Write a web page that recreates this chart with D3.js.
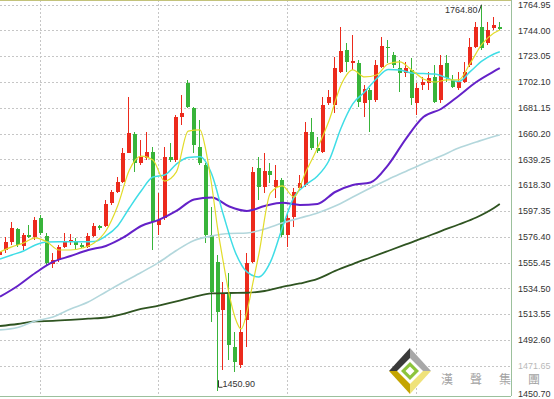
<!DOCTYPE html>
<html>
<head>
<meta charset="utf-8">
<script src="https://cdn.jsdelivr.net/npm/d3@7"></script>
<style>
  body { margin: 0; background: #fff; }
  .axis text { font-family: 'Liberation Sans', Arial, sans-serif; font-size: 9px; fill: #333; }
  .note { font-family: 'Liberation Sans', Arial, sans-serif; font-size: 9px; fill: #333; }
</style>
</head>
<body>
<div id="chart"></div>
<script>
// Daily candles, left to right (prices)
const opens = [1561.6, 1565.6, 1572.3, 1582.7, 1568.9, 1577.8, 1576.2, 1591.6, 1577.0, 1554.2,
    1557.5, 1568.0, 1572.1, 1572.3, 1569.7, 1568.3, 1577.2, 1585.3, 1585.3, 1603.5,
    1613.0, 1621.1, 1644.1, 1659.8, 1636.0, 1640.1, 1644.9, 1585.9, 1591.4, 1641.4,
    1638.7, 1673.6, 1701.0, 1680.7, 1649.5, 1634.6, 1577.8, 1556.1, 1516.9, 1530.5,
    1487.1, 1472.2, 1508.8, 1556.1, 1632.0, 1617.0, 1630.0, 1617.0, 1622.5, 1577.8,
    1592.6, 1615.7, 1618.4, 1661.7, 1648.2, 1645.4, 1685.2, 1683.4, 1710.4, 1728.0,
    1717.7, 1717.7, 1685.2, 1695.5, 1687.4, 1714.5, 1730.7, 1724.0, 1713.6, 1709.1,
    1711.8, 1685.0, 1699.6, 1701.2, 1706.3, 1687.4, 1717.5, 1703.7, 1696.9, 1702.3,
    1715.8, 1730.7, 1746.9, 1733.5, 1745.6, 1746.9];
const highs = [1566.4, 1576.4, 1588.6, 1583.5, 1579.2, 1585.9, 1592.6, 1594.0, 1579.2, 1563.2,
    1569.7, 1579.2, 1578.4, 1575.1, 1571.3, 1579.2, 1587.3, 1585.9, 1606.2, 1614.3,
    1625.1, 1648.2, 1690.1, 1661.7, 1654.9, 1661.7, 1649.5, 1611.7, 1649.5, 1652.7,
    1675.2, 1691.5, 1703.7, 1682.0, 1671.2, 1636.0, 1600.8, 1561.6, 1539.9, 1546.7,
    1499.3, 1516.9, 1562.9, 1633.3, 1641.4, 1644.1, 1636.0, 1634.6, 1623.8, 1595.4,
    1615.7, 1626.5, 1669.8, 1672.6, 1657.6, 1690.1, 1695.5, 1722.6, 1746.9, 1733.5,
    1740.2, 1719.9, 1699.6, 1696.9, 1719.9, 1738.8, 1736.1, 1726.6, 1719.9, 1718.5,
    1721.5, 1701.2, 1706.3, 1710.4, 1715.8, 1724.0, 1724.0, 1707.7, 1710.4, 1718.5,
    1737.5, 1751.0, 1764.8, 1751.0, 1755.1, 1751.0];
const lows = [1559.9, 1563.2, 1569.7, 1568.3, 1565.6, 1575.4, 1573.7, 1577.8, 1553.4, 1551.0,
    1556.1, 1567.0, 1569.7, 1565.6, 1567.2, 1567.0, 1576.4, 1581.9, 1584.5, 1602.2,
    1611.7, 1619.8, 1644.1, 1629.2, 1634.6, 1638.7, 1565.6, 1577.8, 1590.0, 1637.3,
    1637.3, 1667.1, 1680.9, 1644.1, 1634.6, 1571.1, 1507.4, 1450.9, 1468.2, 1476.3,
    1466.8, 1469.6, 1487.1, 1555.1, 1606.2, 1611.7, 1619.8, 1607.6, 1576.4, 1568.3,
    1584.5, 1614.3, 1617.0, 1646.8, 1644.6, 1644.1, 1683.4, 1676.6, 1709.1, 1710.4,
    1711.8, 1682.0, 1673.9, 1661.7, 1686.0, 1713.2, 1717.2, 1713.2, 1694.2, 1706.3,
    1683.4, 1675.2, 1695.5, 1695.5, 1685.0, 1685.0, 1702.3, 1696.9, 1695.5, 1701.0,
    1714.5, 1729.4, 1728.0, 1732.1, 1744.3, 1744.3];
const closes = [1564.2, 1572.3, 1583.5, 1569.7, 1577.8, 1576.4, 1590.0, 1579.4, 1555.1, 1557.5,
    1568.0, 1572.1, 1573.7, 1569.7, 1567.8, 1577.2, 1585.3, 1583.2, 1603.0, 1613.0,
    1621.1, 1644.1, 1660.9, 1636.0, 1641.4, 1645.4, 1588.6, 1590.0, 1641.4, 1638.7,
    1673.4, 1676.9, 1682.0, 1650.9, 1636.0, 1577.8, 1531.8, 1515.5, 1530.5, 1488.5,
    1474.9, 1499.3, 1554.8, 1629.2, 1617.0, 1630.0, 1626.5, 1622.5, 1577.8, 1591.4,
    1613.0, 1619.8, 1661.7, 1648.2, 1646.2, 1683.4, 1689.6, 1713.2, 1727.4, 1718.5,
    1719.1, 1686.0, 1696.1, 1687.4, 1715.8, 1731.3, 1729.4, 1715.8, 1709.1, 1713.2,
    1688.8, 1697.2, 1702.3, 1705.3, 1686.0, 1715.8, 1705.3, 1698.0, 1702.3, 1710.4,
    1730.7, 1746.9, 1729.4, 1744.3, 1748.3, 1744.8];

// Moving average lines, [candle index, price]
const ma5 = [[0,1564.0],[2,1568.1],[4,1571.3],[6,1575.4],[8,1572.1],[10,1565.6],[12,1565.6],[14,1567.2],
    [16,1571.3],[18,1581.0],[20,1601.3],[22,1630.6],[24,1641.9],[26,1638.7],[28,1621.6],[30,1629.0],
    [32,1662.2],[34,1663.1],[35,1646.8],[36,1618.4],[37,1583.5],[38,1555.1],[39,1529.1],[40,1510.4],
    [41,1501.5],[42,1515.3],[43,1538.8],[44,1561.6],[46,1611.9],[48,1617.6],[50,1608.6],[52,1629.0],
    [54,1648.4],[56,1671.2],[58,1699.6],[60,1711.8],[62,1706.1],[64,1707.7],[66,1716.6],[68,1718.3],
    [70,1711.8],[72,1704.5],[74,1702.0],[76,1703.7],[78,1703.7],[80,1717.5],[82,1732.9],[84,1741.8],[85,1744.3]];
const ma10 = [[0,1558.3],[2,1561.6],[4,1564.8],[6,1569.7],[8,1572.1],[10,1572.3],[12,1572.3],[14,1572.3],
    [16,1572.5],[18,1577.0],[20,1585.1],[22,1599.7],[24,1613.5],[26,1624.9],[28,1626.5],[30,1635.4],
    [32,1640.7],[34,1641.4],[36,1627.3],[38,1594.0],[40,1564.0],[42,1547.8],[44,1543.7],[46,1555.9],
    [48,1583.5],[50,1608.6],[52,1618.4],[54,1625.7],[56,1638.7],[58,1664.7],[60,1684.2],[62,1693.9],
    [64,1704.5],[66,1712.2],[68,1711.8],[70,1709.3],[72,1708.9],[74,1708.5],[76,1705.3],[78,1702.4],
    [80,1710.6],[82,1719.1],[84,1724.8],[85,1726.6]];
const ma20 = [[0,1527.7],[3,1536.4],[6,1546.9],[9,1555.9],[12,1560.7],[15,1565.6],[18,1568.9],[21,1575.8],
    [24,1585.1],[27,1590.0],[30,1597.3],[33,1606.6],[36,1608.2],[39,1600.9],[42,1597.3],[45,1601.3],
    [48,1604.0],[51,1602.2],[54,1603.0],[57,1612.7],[60,1618.4],[63,1620.4],[66,1634.6],[69,1655.7],
    [72,1673.6],[75,1680.1],[78,1690.7],[81,1702.0],[84,1710.6],[85,1713.2]];
const ma60 = [[0,1500.7],[3,1502.7],[6,1508.0],[9,1511.2],[12,1517.7],[15,1523.4],[18,1531.5],[21,1539.6],
    [24,1547.3],[27,1555.5],[30,1565.2],[33,1573.3],[36,1577.0],[39,1579.0],[42,1579.4],[45,1582.7],
    [48,1587.5],[51,1591.6],[54,1595.7],[57,1601.3],[60,1608.6],[63,1616.0],[66,1622.9],[69,1629.4],
    [72,1635.9],[75,1641.9],[78,1648.4],[81,1653.3],[84,1657.8],[85,1659.0]];
const ma120 = [[0,1503.9],[3,1505.5],[6,1507.6],[9,1508.0],[12,1508.8],[15,1509.8],[18,1510.8],[21,1513.8],
    [24,1517.7],[27,1520.5],[30,1523.8],[33,1527.5],[36,1530.3],[39,1530.7],[42,1530.9],[45,1532.3],
    [48,1535.6],[51,1538.4],[54,1542.1],[57,1548.6],[60,1554.2],[63,1559.5],[66,1564.8],[69,1570.1],
    [72,1575.4],[75,1581.0],[78,1586.3],[81,1592.0],[84,1599.7],[85,1603.0]];

// Price scale labels and period separators (candle index)
const priceTicks = [1764.95, 1744.00, 1723.05, 1702.10, 1681.15, 1660.20, 1639.25, 1618.30,
    1597.35, 1576.40, 1555.45, 1534.50, 1513.55, 1492.60, 1471.65, 1450.70];
const periodStarts = [7, 27, 49, 71];
const highIdx = 82, highLabel = '1764.80';
const lowIdx = 37, lowLabel = '1450.90';
const logoChars = ['漢', '聲', '集', '團'];

const svgWidth = 554, svgHeight = 399;
const plotRight = 511, plotBottom = 396;

const svg = d3.select('#chart')
    .append('svg')
    .attr('width', svgWidth)
    .attr('height', svgHeight);

const xScale = d3.scaleLinear().domain([0, 85]).range([0, 499.8]);
const yScale = d3.scaleLinear().domain([1450.70, 1764.95]).range([391.5, 4.5]);

svg.append('defs').append('clipPath').attr('id', 'plot')
    .append('rect').attr('width', plotRight).attr('height', plotBottom);

// Grid
const grid = svg.append('g').attr('stroke', '#c6c6c6').attr('stroke-dasharray', '2,2')
    .attr('shape-rendering', 'crispEdges');
grid.selectAll('.hgrid')
    .data(priceTicks.slice(0, -1))
    .enter()
    .append('line')
    .attr('x1', 0).attr('x2', plotRight)
    .attr('y1', d => Math.round(yScale(d)) + 0.5)
    .attr('y2', d => Math.round(yScale(d)) + 0.5);
grid.selectAll('.vgrid')
    .data(periodStarts)
    .enter()
    .append('line')
    .attr('x1', d => Math.round(xScale(d)) - 0.5)
    .attr('x2', d => Math.round(xScale(d)) - 0.5)
    .attr('y1', 0).attr('y2', plotBottom);

const plot = svg.append('g').attr('clip-path', 'url(#plot)');

// Candles (red = up, green = down)
const candles = d3.range(opens.length).map(i => ({
    i: i, o: opens[i], h: highs[i], l: lows[i], c: closes[i]
}));
const candleColor = d => (d.c >= d.o ? '#ec2a1c' : '#38b43a');

const cg = plot.append('g').attr('shape-rendering', 'crispEdges');
cg.selectAll('.wick')
    .data(candles)
    .enter()
    .append('line')
    .attr('x1', d => Math.round(xScale(d.i)) - 0.5)
    .attr('x2', d => Math.round(xScale(d.i)) - 0.5)
    .attr('y1', d => yScale(d.h))
    .attr('y2', d => yScale(d.l))
    .attr('stroke', candleColor);
cg.selectAll('.body')
    .data(candles)
    .enter()
    .append('rect')
    .attr('x', d => Math.round(xScale(d.i)) - 2)
    .attr('width', 4)
    .attr('y', d => yScale(Math.max(d.o, d.c)))
    .attr('height', d => Math.max(1, Math.abs(yScale(d.o) - yScale(d.c))))
    .attr('fill', candleColor);

// Moving averages
const line = d3.line()
    .x(d => xScale(d[0]))
    .y(d => yScale(d[1]))
    .curve(d3.curveMonotoneX);
const series = [
    { values: ma120, color: '#2f5421', width: 1.8 },
    { values: ma60, color: '#b3d7dc', width: 1.6 },
    { values: ma20, color: '#6421c8', width: 2 },
    { values: ma10, color: '#3fdde6', width: 1.5 },
    { values: ma5, color: '#e2dc2a', width: 1.2 }
];
plot.selectAll('.ma')
    .data(series)
    .enter()
    .append('path')
    .attr('fill', 'none')
    .attr('stroke', d => d.color)
    .attr('stroke-width', d => d.width)
    .attr('d', d => line(d.values));

// High / low markers
const hx = Math.round(xScale(highIdx)) - 0.5, hy = yScale(highs[highIdx]);
svg.append('line').attr('x1', hx - 3).attr('y1', hy + 8).attr('x2', hx).attr('y2', hy)
    .attr('stroke', '#333');
svg.append('text').attr('class', 'note')
    .attr('x', hx - 4).attr('y', hy + 8).attr('text-anchor', 'end')
    .text(highLabel);

const lx = Math.round(xScale(lowIdx)) + 0.5, ly = yScale(lows[lowIdx]) - 4;
svg.append('path').attr('fill', 'none').attr('stroke', '#333')
    .attr('d', `M${lx},${ly - 7}V${ly}H${lx + 4}`);
svg.append('text').attr('class', 'note')
    .attr('x', lx + 4).attr('y', ly)
    .text(lowLabel);

// Borders
svg.append('line').attr('x1', 0).attr('x2', plotRight).attr('y1', 0.5).attr('y2', 0.5)
    .attr('stroke', '#c2c27a');
svg.append('line').attr('x1', plotRight + 0.5).attr('x2', plotRight + 0.5).attr('y1', 0).attr('y2', plotBottom)
    .attr('stroke', '#9cc09c');
svg.append('line').attr('x1', 0).attr('x2', plotRight).attr('y1', plotBottom + 0.5).attr('y2', plotBottom + 0.5)
    .attr('stroke', '#9cc09c');

// Price axis
const yAxis = d3.axisRight(yScale)
    .tickValues(priceTicks)
    .tickFormat(d3.format('.2f'))
    .tickSize(0)
    .tickPadding(7);
const yAxisDraw = svg.append('g')
    .attr('class', 'axis')
    .attr('transform', 'translate(' + plotRight + ',0)');
yAxis(yAxisDraw);
yAxisDraw.select('.domain').remove();
yAxisDraw.selectAll('.tick text').filter(d => d === 1471.65).attr('opacity', 0.35);
yAxisDraw.selectAll('.tick text').filter(d => d === 1450.70).attr('dy', '0.5em');

// Watermark logo
const logo = svg.append('g');
logo.append('polygon').attr('points', '389,371 410,348 410,371').attr('fill', '#3a3a3a');
logo.append('polygon').attr('points', '410,348 431,371 410,371').attr('fill', '#a8a8a8');
logo.append('polygon').attr('points', '389,371 410,394 410,371').attr('fill', '#c4a400');
logo.append('polygon').attr('points', '410,394 431,371 410,371').attr('fill', '#efe27a');
logo.append('polygon').attr('points', '397,371 410,358 423,371 410,384').attr('fill', '#fff');
logo.append('polygon').attr('points', '401,371 410,362 419,371 410,380').attr('fill', '#8cc43c');
logo.append('polygon').attr('points', '405.5,371 410,366.5 414.5,371 410,375.5').attr('fill', '#fff');
logo.selectAll('.logo-char')
    .data(logoChars)
    .enter()
    .append('text')
    .attr('x', (d, i) => 441 + i * 29)
    .attr('y', 384)
    .attr('font-family', "'Noto Sans CJK TC', sans-serif")
    .attr('font-size', 12)
    .attr('fill', '#a4a4a4')
    .text(d => d);
</script>
</body>
</html>
